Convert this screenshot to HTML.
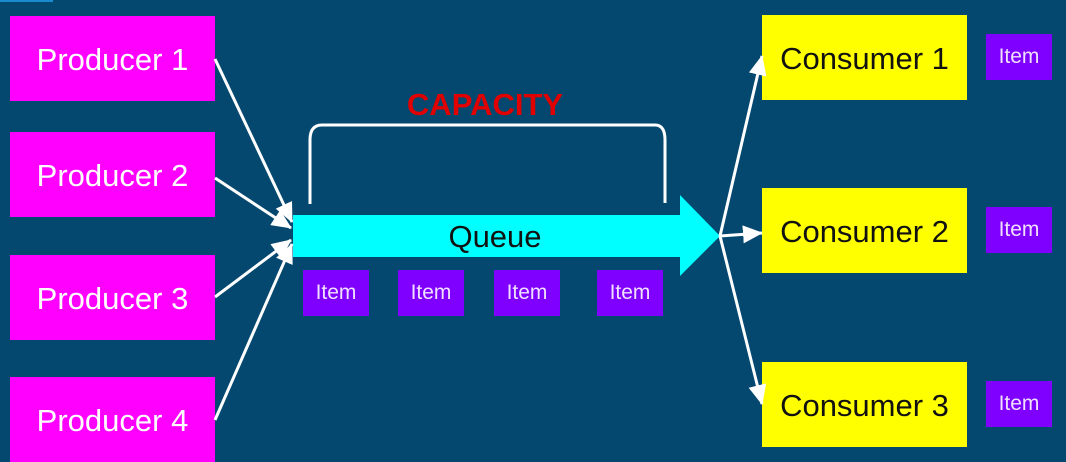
<!DOCTYPE html>
<html><head><meta charset="utf-8"><style>
body{margin:0;width:1066px;height:455px;overflow:hidden;background:#05486f;font-family:"Liberation Sans",sans-serif;position:relative}
.b{position:absolute;display:flex;align-items:center;justify-content:center;font-size:31px;padding-top:3px;box-sizing:border-box}
.p{background:#ff00ff;color:#fff;left:10px;width:205px;height:85px}
.c{background:#ffff00;color:#111;left:762px;width:205px;height:85px}
.i{background:#8000ff;color:#f0e0ff;font-size:21px;width:66px;height:46px;padding-top:0}
</style></head><body>
<div style="position:absolute;left:0;top:0;width:53px;height:2px;background:#1a8ad0"></div>
<div class="b p" style="top:16px">Producer 1</div>
<div class="b p" style="top:132px">Producer 2</div>
<div class="b p" style="top:255px">Producer 3</div>
<div class="b p" style="top:377px">Producer 4</div>
<div class="b c" style="top:15px">Consumer 1</div>
<div class="b c" style="top:188px">Consumer 2</div>
<div class="b c" style="top:362px">Consumer 3</div>
<div class="b i" style="left:986px;top:34px">Item</div>
<div class="b i" style="left:986px;top:207px">Item</div>
<div class="b i" style="left:986px;top:381px">Item</div>
<div class="b i" style="left:303px;top:270px">Item</div>
<div class="b i" style="left:398px;top:270px">Item</div>
<div class="b i" style="left:494px;top:270px">Item</div>
<div class="b i" style="left:597px;top:270px">Item</div>
<svg width="1066" height="455" style="position:absolute;left:0;top:0">
<defs><marker id="m" markerWidth="20" markerHeight="18" refX="19" refY="9" orient="auto" markerUnits="userSpaceOnUse"><path d="M0,0L20,9L0,18z" fill="#fff"/></marker></defs>
<path d="M293,215H680V195L720,236L680,276V257H293Z" fill="#00ffff"/>
<text x="495" y="247" font-size="31" text-anchor="middle" fill="#111" font-family="Liberation Sans">Queue</text>
<text x="485" y="115" font-size="31" font-weight="bold" text-anchor="middle" fill="#e00000" font-family="Liberation Sans">CAPACITY</text>
<path d="M310,204V140Q310,125 322,125H655Q665,125 665,140V203" fill="none" stroke="#fff" stroke-width="3"/>
<g stroke="#fff" stroke-width="3" fill="none" marker-end="url(#m)">
<line x1="215" y1="59" x2="292" y2="222"/>
<line x1="215" y1="178" x2="291" y2="228"/>
<line x1="215" y1="297" x2="291" y2="240"/>
<line x1="215" y1="420" x2="292" y2="244"/>
<line x1="720" y1="236" x2="762" y2="56"/>
<line x1="720" y1="236" x2="762" y2="233"/>
<line x1="720" y1="236" x2="762" y2="404"/>
</g>
</svg>
</body></html>
